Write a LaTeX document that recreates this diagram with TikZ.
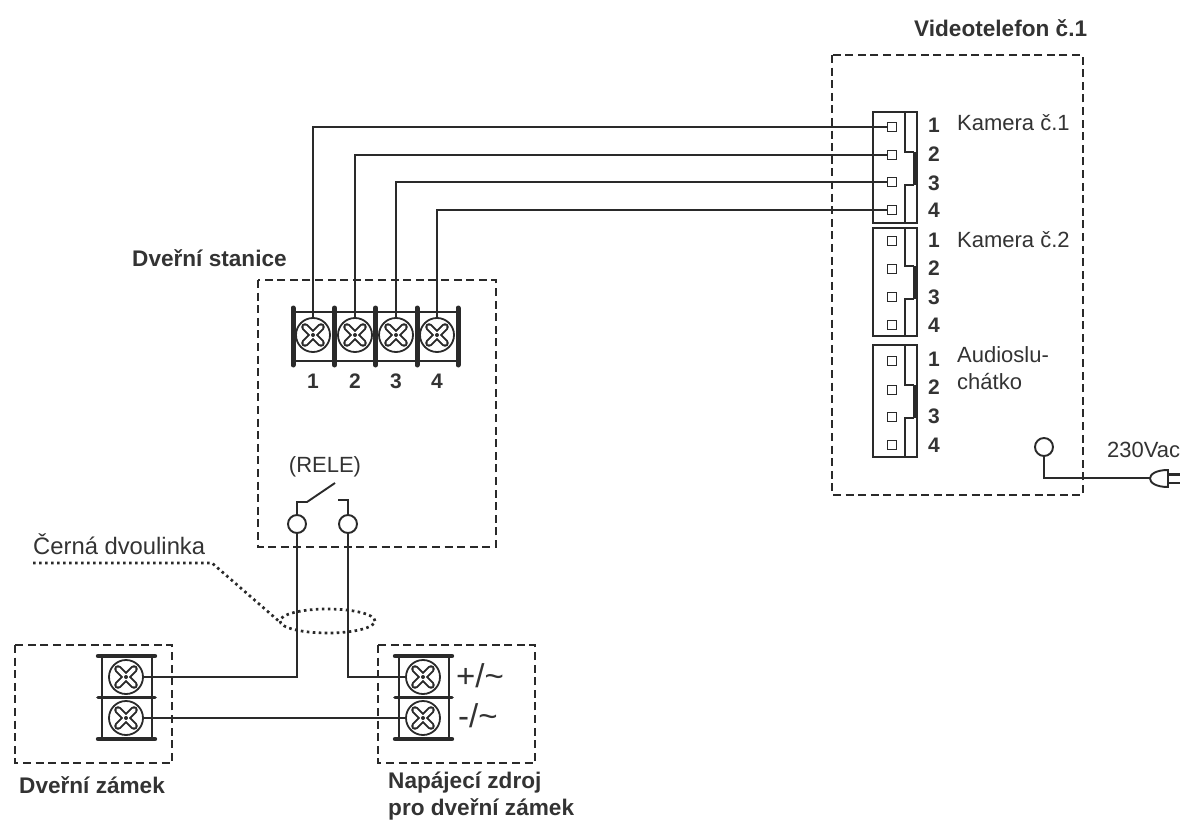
\documentclass[tikz,border=0pt]{standalone}
\usepackage{fontspec}
\usetikzlibrary{shapes.geometric}
\setmainfont{Liberation Sans}
\definecolor{ink}{HTML}{2A2A2A}
\definecolor{txt}{HTML}{333333}
\tikzset{
  wire/.style={draw=ink,line width=1.9pt},
  dbox/.style={draw=ink,line width=2pt,dash pattern=on 8pt off 4.6pt},
  dots/.style={draw=ink,line width=2.7pt,dash pattern=on 2.6pt off 3.4pt},
  screw/.style={circle,draw=ink,line width=1.8pt,minimum size=34pt,inner sep=0pt,
    path picture={
      \draw[ink,line width=7.6pt,line cap=round] ([shift={(-8pt,-8pt)}]path picture bounding box.center)--([shift={(8pt,8pt)}]path picture bounding box.center);
      \draw[ink,line width=7.6pt,line cap=round] ([shift={(-8pt,8pt)}]path picture bounding box.center)--([shift={(8pt,-8pt)}]path picture bounding box.center);
      \draw[white,line width=3.8pt,line cap=round] ([shift={(-8pt,-8pt)}]path picture bounding box.center)--([shift={(8pt,8pt)}]path picture bounding box.center);
      \draw[white,line width=3.8pt,line cap=round] ([shift={(-8pt,8pt)}]path picture bounding box.center)--([shift={(8pt,-8pt)}]path picture bounding box.center);
      \fill[ink] (path picture bounding box.center) circle (2pt);
    }},
  pinbox/.style={rectangle,draw=ink,line width=1.9pt,minimum size=9pt,inner sep=0pt},
  ring/.style={circle,draw=ink,line width=1.9pt,minimum size=18pt,inner sep=0pt},
  bar/.style={draw=ink,line width=4.4pt,line cap=round},
  hair/.style={draw=ink,line width=1.8pt},
  head/.style={font=\bfseries\fontsize{22.6}{27}\selectfont,text=txt,inner sep=0pt},
  lab/.style={font=\fontsize{22}{27}\selectfont,text=txt,inner sep=0pt,align=left},
  num/.style={font=\bfseries\fontsize{21}{24}\selectfont,text=txt,inner sep=0pt},
  sign/.style={font=\fontsize{33}{35}\selectfont,text=txt,inner sep=0pt,anchor=west},
  conn/.style={draw=ink,line width=2pt}
}
\newcommand{\vterm}[2]{% x-left of bar, x-right of bar
  \draw[hair] (#1+4,656)--(#1+4,739) (#2-3,656)--(#2-3,739);
  \draw[bar] (#1,656)--(#2,656);
  \draw[bar,line width=3.6pt] (#1,697.5)--(#2,697.5);
  \draw[bar] (#1,739)--(#2,739);
}
\newcommand{\jack}[3]{% top, bottom, notch top; notch bottom is computed
  \draw[conn] (873,#1) rectangle (917,#2);
  \draw[conn] (905,#1)--(905,#3)--(913.5,#3);
  \draw[draw=ink,line width=3.4pt] (914.5,#3)--(914.5,#3+33);
  \draw[conn] (913.5,#3+33)--(905,#3+33)--(905,#2);
}
\begin{document}
\begin{tikzpicture}[x=1pt,y=-1pt]
\useasboundingbox (0,0) rectangle (1184,821);
% dashed enclosures
\draw[dbox] (832,55) rectangle (1083,495);
\draw[dbox] (258,280) rectangle (496,547);
\draw[dbox] (15,645) rectangle (172,763);
\draw[dbox] (378,645) rectangle (535,763);
% door station terminal strip
\draw[hair] (293,312)--(458,312) (293,361)--(458,361);
\foreach \x in {293,334.5,375.5,417,458} \draw[bar,line width=5pt] (\x,308)--(\x,365);
\node[screw] (t1) at (313,335) {};
\node[screw] (t2) at (355,335) {};
\node[screw] (t3) at (396,335) {};
\node[screw] (t4) at (437,335) {};
\node[num] (n1) at (313,381) {1};
\node[num] (n2) at (355,381) {2};
\node[num] (n3) at (396,381) {3};
\node[num] (n4) at (437,381) {4};
% phone connectors
\jack{112}{223}{152}
\jack{228}{336}{266}
\jack{345}{457}{385}
\node[pinbox] (a1) at (892,127) {};
\node[pinbox] (a2) at (892,155) {};
\node[pinbox] (a3) at (892,182) {};
\node[pinbox] (a4) at (892,210) {};
\node[pinbox] (b1) at (892,241) {};
\node[pinbox] (b2) at (892,269) {};
\node[pinbox] (b3) at (892,297) {};
\node[pinbox] (b4) at (892,325) {};
\node[pinbox] (c1) at (892,361) {};
\node[pinbox] (c2) at (892,390) {};
\node[pinbox] (c3) at (892,417) {};
\node[pinbox] (c4) at (892,445) {};
\foreach \n/\y in {1/125,2/154,3/183,4/210,5/240,6/268,7/297,8/325,9/359,10/387,11/416,12/445}{
  \pgfmathtruncatemacro{\v}{mod(\n-1,4)+1}
  \node[num] (m\n) at (934,\y) {\v};
}
% wires from door station to phone
\draw[wire] (a1.west) -| (t1.north);
\draw[wire] (a2.west) -| (t2.north);
\draw[wire] (a3.west) -| (t3.north);
\draw[wire] (a4.west) -| (t4.north);
% lock and power terminals
\vterm{98}{155}
\vterm{395}{452}
\node[screw] (l1) at (126,677) {};
\node[screw] (l2) at (126,718) {};
\node[screw] (s1) at (423,677) {};
\node[screw] (s2) at (423,718) {};
% relay
\node[ring] (r1) at (297,524) {};
\node[ring] (r2) at (348,524) {};
\coordinate (c1top) at (338,500);
\coordinate (armend) at (335,483);
\draw[wire] (r1.north)--(297,502)--(307,502)--(armend);
\draw[wire] (c1top)--(348,500)--(r2.north);
\draw[wire] (r1.south) |- (l1.east);
\draw[wire] (r2.south) |- (s1.west);
\draw[wire] (l2.east) -- (s2.west);
% twisted pair marker
\node[dots,ellipse,minimum width=95pt,minimum height=24pt,inner sep=0pt] (e) at (327.5,621) {};
\coordinate (d0) at (33,563);
\coordinate (d1) at (212,563);
\draw[dots] (d0)--(d1)--(e.west);
% mains
\node[ring] (mains) at (1044,447) {};
\coordinate (plug) at (1150,478);
\draw[wire] (mains.south) |- (plug);
\draw[wire] (1168,470) .. controls (1144,470) and (1144,487) .. (1168,487) -- cycle;
\draw[wire,line width=2.2pt] (1168,474.5)--(1180,474.5) (1168,483)--(1180,483);
% texts
\node[head,anchor=west] (hv) at (914,28) {Videotelefon č.1};
\node[head,anchor=west] (hd) at (132,258) {Dveřní stanice};
\node[head,anchor=west] (hz) at (19,785) {Dveřní zámek};
\node[head,anchor=north west,align=left] (hn) at (388,772) {Napájecí zdroj\\pro dveřní zámek};
\node[lab,anchor=west] (k1) at (957,123) {Kamera č.1};
\node[lab,anchor=west] (k2) at (957,240) {Kamera č.2};
\node[lab,anchor=north west] (au) at (957,346) {Audioslu-\\chátko};
\node[lab,anchor=west] (v) at (1107,450) {230Vac};
\node[lab,anchor=center] (rl) at (325,467) {(RELE)};
\node[lab,anchor=west,font=\fontsize{23.8}{27}\selectfont] (cd) at (33,544) {Černá dvoulinka};
\node[sign] (pl) at (456,676) {+/\char"007E};
\node[sign] (mi) at (458,716) {-/\char"007E};
\end{tikzpicture}
\end{document}
